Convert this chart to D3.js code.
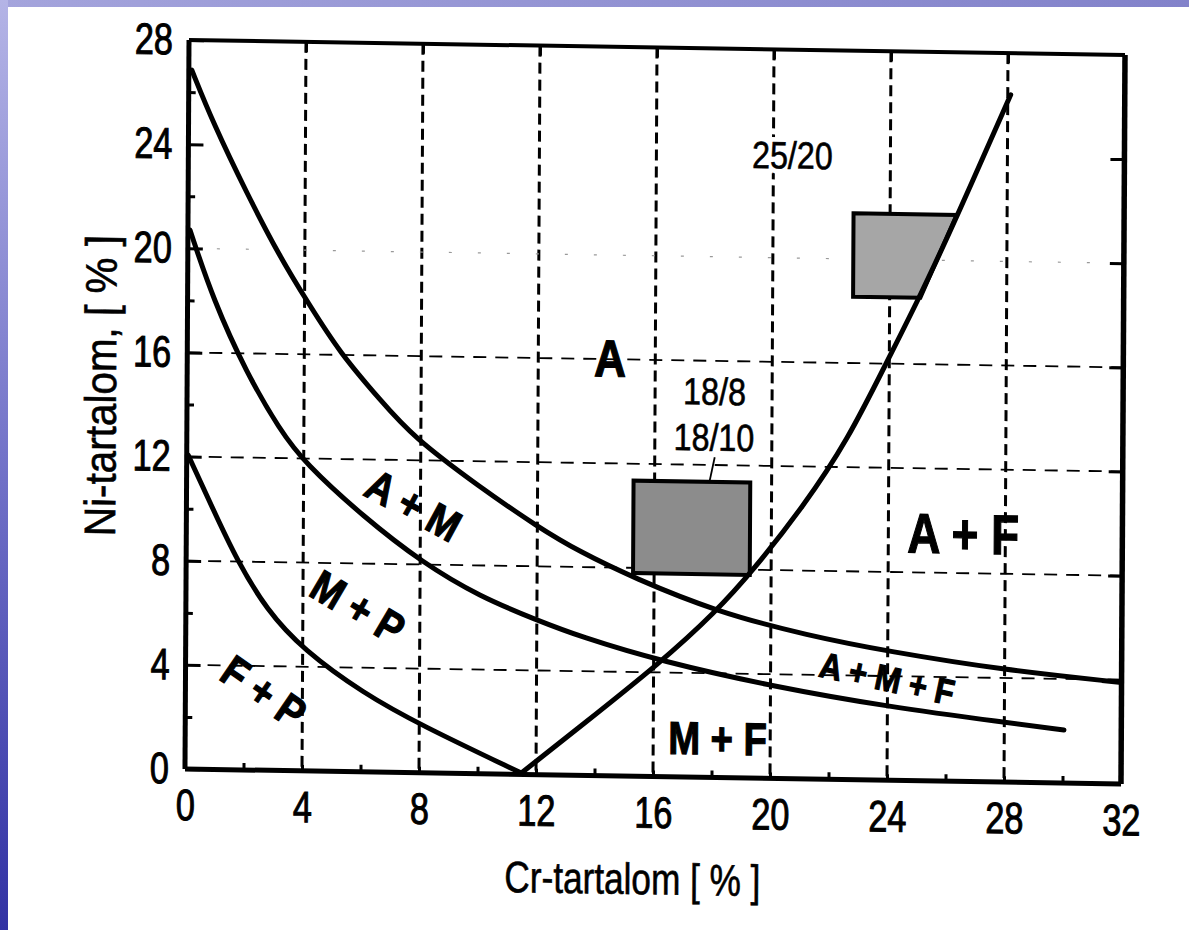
<!DOCTYPE html>
<html><head><meta charset="utf-8">
<script src="https://cdn.jsdelivr.net/npm/d3@7"></script>
<style>body{margin:0;background:#fff;} svg{display:block}</style>
</head><body><svg id="c" width="1189" height="930"></svg>
<script>
// ---- data ----
const crTicks = [0,4,8,12,16,20,24,28,32];
const niTicks = [0,4,8,12,16,20,24,28];
const crMinor = [2,6,10,14,18,22,26,30];
const niMinor = [2,6,10,14,18,22,26];
const crGrid = [4,8,12,16,20,24,28];
const niGrid = [4,8,12,16];
const niGridFaint = [20];

// boundary A / A+M
const curveA = [[0.1,26.85],[0.84,24.83],[2.0,22.16],[3.15,19.72],[4.12,17.98],[5.22,16.07],[6.6,14.3],[7.73,12.89],[10.03,11.0],[12.02,9.51],[13.46,8.58],[15.3,7.62],[18.12,6.37],[21.3,5.5],[24.0,4.95],[28.0,4.3],[32.0,3.9]];
// boundary A+M / M+P
const curveM = [[0.07,20.7],[0.88,18.03],[2.03,15.25],[3.18,13.08],[4.04,11.82],[6.05,9.8],[8.1,8.05],[10.05,6.8],[11.99,5.94],[13.47,5.33],[16.28,4.42],[20.09,3.53],[23.99,2.83],[28.03,2.29],[30.04,2.04]];
// boundary M+P / F+P
const curveP = [[0.05,12.06],[0.92,9.97],[1.73,8.06],[2.76,6.16],[4.02,4.65],[6.08,3.02],[8.03,1.84],[11.5,0.05]];
// ferrite boundary
const curveF = [[11.5,0.05],[13.5,1.87],[16.28,4.42],[18.12,6.37],[19.35,7.93],[21.09,10.46],[22.6,13.05],[23.93,16.1],[25.06,18.65],[26.29,21.7],[28.1,26.4]];

const box188 = [[15.28,7.8],[19.27,11.35]];
const box2520 = [[22.75,21.75],[26.27,21.75],[25.05,18.55],[22.75,18.55]];
const leader = [[18.05,12.3],[17.88,11.38]];

const phaseText = ["A","A + F","M + F","A + M","M + P","F + P","A + M + F"];
const phaseCr   = [14.45,26.56,18.2,7.77,5.89,2.69,23.99];
const phaseNi   = [16.05,9.53,1.52,10.28,6.34,3.02,3.92];
const gradeText = ["25/20","18/8","18/10"];
const gradeCr   = [20.65,18.03,18.02];
const gradeNi   = [23.96,14.84,13.08];

const xTitle = "Cr-tartalom [ % ]";
const yTitle = "Ni-tartalom, [ % ]";

// ---- styles ----
const phaseStyle = {
  "A":        {size:52, sx:0.85, rot:0},
  "A + F":    {size:56, sx:0.82, rot:0},
  "M + F":    {size:46, sx:0.83, rot:0},
  "A + M":    {size:44, sx:0.86, rot:28},
  "M + P":    {size:44, sx:0.86, rot:30},
  "F + P":    {size:44, sx:0.86, rot:34},
  "A + M + F":{size:36, sx:0.86, rot:11.5}
};
const FONT = "'Liberation Sans', Arial, Helvetica, sans-serif";

const svg = d3.select("#c");
const defs = svg.append("defs");
const lg = defs.append("linearGradient").attr("id","lstrip").attr("x1",0).attr("y1",0).attr("x2",0).attr("y2",1);
lg.append("stop").attr("offset",0).attr("stop-color","#b4b4e6");
lg.append("stop").attr("offset",0.5).attr("stop-color","#7272c8");
lg.append("stop").attr("offset",1).attr("stop-color","#3232a4");
const tg = defs.append("linearGradient").attr("id","tstrip").attr("x1",0).attr("y1",0).attr("x2",1).attr("y2",0);
tg.append("stop").attr("offset",0).attr("stop-color","#a4a4dc");
tg.append("stop").attr("offset",1).attr("stop-color","#8282ca");

svg.append("rect").attr("width",1189).attr("height",930).attr("fill","#fff");
svg.append("rect").attr("width",1189).attr("height",7).attr("fill","url(#tstrip)");
svg.append("rect").attr("width",8).attr("height",930).attr("fill","url(#lstrip)");

const W = 936, H = 729;
const x = d3.scaleLinear().domain([0,32]).range([0,W]);
const y = d3.scaleLinear().domain([0,28]).range([H,0]);

const g = svg.append("g").attr("transform","matrix(1,0.016,-0.0055,1,189,40)");

// grid
g.selectAll(".vg").data(crGrid).join("line")
  .attr("x1",d=>x(d)).attr("x2",d=>x(d)).attr("y1",0).attr("y2",H)
  .attr("stroke","#000").attr("stroke-width",3).attr("stroke-dasharray","11,6");
g.selectAll(".hg").data(niGrid).join("line")
  .attr("x1",0).attr("x2",W).attr("y1",d=>y(d)).attr("y2",d=>y(d))
  .attr("stroke","#000").attr("stroke-width",1.8).attr("stroke-dasharray","13,9");
g.selectAll(".hgf").data(niGridFaint).join("line")
  .attr("x1",0).attr("x2",W).attr("y1",d=>y(d)).attr("y2",d=>y(d))
  .attr("stroke","#999").attr("stroke-width",1.2).attr("stroke-dasharray","3,26");

// boxes
g.append("rect")
  .attr("x",x(box188[0][0])).attr("y",y(box188[1][1]))
  .attr("width",x(box188[1][0])-x(box188[0][0]))
  .attr("height",y(box188[0][1])-y(box188[1][1]))
  .attr("fill","#8c8c8c").attr("stroke","#000").attr("stroke-width",4);
g.append("path")
  .attr("d", d3.line().x(d=>x(d[0])).y(d=>y(d[1]))(box2520)+"Z")
  .attr("fill","#a6a6a6").attr("stroke","#000").attr("stroke-width",4).attr("stroke-linejoin","miter");
g.append("path")
  .attr("d", d3.line().x(d=>x(d[0])).y(d=>y(d[1]))(leader))
  .attr("stroke","#000").attr("stroke-width",1.8).attr("fill","none");

// curves
const line = d3.line().x(d=>x(d[0])).y(d=>y(d[1])).curve(d3.curveBasis);
[curveA, curveM, curveP, curveF].forEach(c=>{
  g.append("path").attr("d",line(c)).attr("fill","none")
   .attr("stroke","#000").attr("stroke-width",5).attr("stroke-linecap","round");
});

// frame
g.append("line").attr("x1",0).attr("x2",0).attr("y1",0).attr("y2",H).attr("stroke","#000").attr("stroke-width",5);
g.append("line").attr("x1",0).attr("x2",W).attr("y1",H).attr("y2",H).attr("stroke","#000").attr("stroke-width",5);
g.append("line").attr("x1",W).attr("x2",W).attr("y1",0).attr("y2",H).attr("stroke","#000").attr("stroke-width",5.5);
g.append("line").attr("x1",0).attr("x2",W).attr("y1",0).attr("y2",0).attr("stroke","#000").attr("stroke-width",4);

function narrowAxisText(sel, sx){
  sel.selectAll("text").each(function(){
    const t = d3.select(this);
    const tx = +t.attr("x") || 0;
    t.attr("x",0).attr("transform",`translate(${tx},0) scale(${sx},1)`);
  });
}
function styleAxis(a){
  a.select(".domain").remove();
  a.selectAll("line").attr("stroke","#000").attr("stroke-width",3);
  a.selectAll("text").attr("font-family",FONT).attr("font-size",44).attr("fill","#000")
   .attr("stroke","#000").attr("stroke-width",1);
}

// left axis (labels + inward ticks)
const la = g.append("g").call(d3.axisLeft(y).tickValues(niTicks).tickSize(-15).tickPadding(16).tickFormat(d3.format("d")));
styleAxis(la); narrowAxisText(la,0.78);
const lm = g.append("g").call(d3.axisLeft(y).tickValues(niMinor).tickSize(-7).tickFormat(""));
styleAxis(lm);
// bottom axis
const ba = g.append("g").attr("transform",`translate(0,${H})`)
  .call(d3.axisBottom(x).tickValues(crTicks).tickSize(-6).tickPadding(20).tickFormat(d3.format("d")));
styleAxis(ba); narrowAxisText(ba,0.78);
const bm = g.append("g").attr("transform",`translate(0,${H})`)
  .call(d3.axisBottom(x).tickValues(crMinor).tickSize(-7).tickFormat(""));
styleAxis(bm);
// right axis ticks
const ra = g.append("g").attr("transform",`translate(${W},0)`)
  .call(d3.axisRight(y).tickValues(niTicks.filter(d=>d>0&&d<28)).tickSize(-14).tickFormat(""));
styleAxis(ra);
// top ticks
const ta = g.append("g").call(d3.axisTop(x).tickValues(crGrid).tickSize(-10).tickFormat(""));
styleAxis(ta);

// titles
g.append("text").attr("transform",`translate(448,831) scale(0.8,1)`)
  .attr("text-anchor","middle").attr("dy","0.36em")
  .attr("font-family",FONT).attr("font-size",44).attr("stroke","#000").attr("stroke-width",0.6).text(xTitle);
g.append("text").attr("transform",`translate(-87,347) rotate(-90) scale(0.92,1)`)
  .attr("text-anchor","middle").attr("dy","0.36em")
  .attr("font-family",FONT).attr("font-size",44).attr("stroke","#000").attr("stroke-width",0.6).text(yTitle);

// phase labels
phaseText.forEach((t,i)=>{
  const s = phaseStyle[t];
  g.append("text")
   .attr("transform",`translate(${x(phaseCr[i])},${y(phaseNi[i])}) rotate(${s.rot}) scale(${s.sx},1)`)
   .attr("text-anchor","middle").attr("dy","0.36em")
   .attr("font-family",FONT).attr("font-weight","bold").attr("font-size",s.size)
   .attr("stroke","#000").attr("stroke-width",1.2).text(t);
});
// grade labels (white halo interrupts the grid behind the text, as in the original)
gradeText.forEach((t,i)=>{
  const tr = `translate(${x(gradeCr[i])},${y(gradeNi[i])}) scale(0.85,1)`;
  g.append("text").attr("transform",tr)
   .attr("text-anchor","middle").attr("dy","0.36em")
   .attr("font-family",FONT).attr("font-size",38)
   .attr("fill","#fff").attr("stroke","#fff").attr("stroke-width",10).text(t);
  g.append("text").attr("transform",tr)
   .attr("text-anchor","middle").attr("dy","0.36em")
   .attr("font-family",FONT).attr("font-size",38)
   .attr("stroke","#000").attr("stroke-width",0.6).text(t);
});
</script>
</body></html>
